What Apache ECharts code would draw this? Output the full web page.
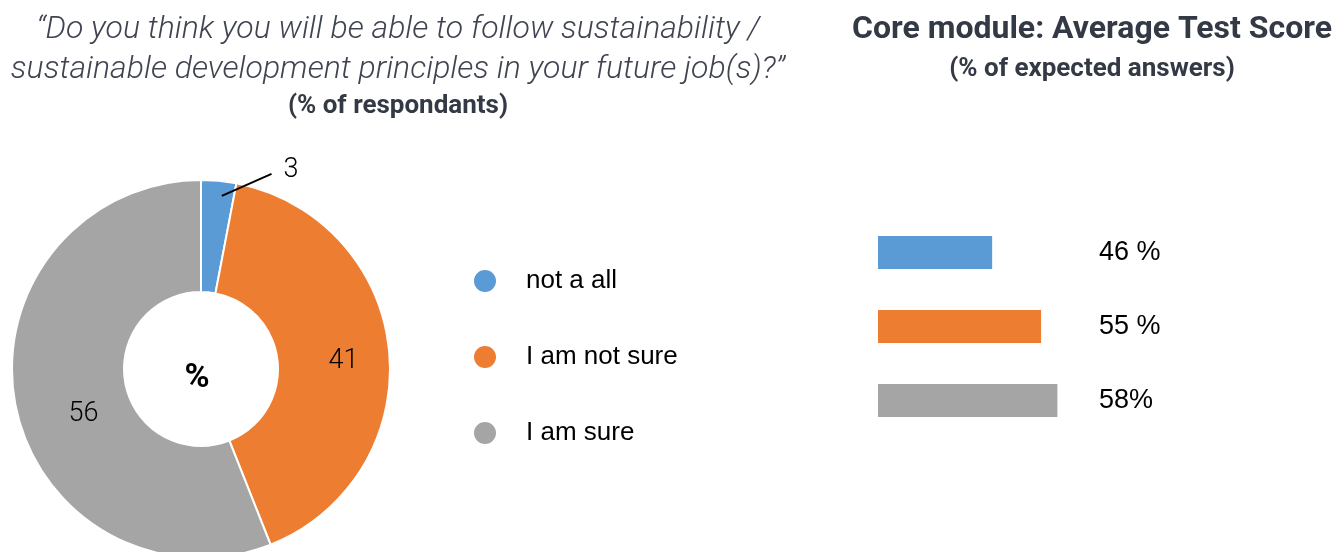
<!DOCTYPE html>
<html>
<head>
<meta charset="utf-8">
<script src="https://cdn.jsdelivr.net/npm/echarts@6/dist/echarts.min.js"></script>
<style>html,body{margin:0;padding:0;background:#fff}#c{width:1344px;height:552px}</style>
</head>
<body>
<div id="c"></div>
<script>
// ---- data ----
const pieNames = ['not a all', 'I am not sure', 'I am sure'];
const pieValues = [3, 41, 56];
const barCategories = ['Test A', 'Test B', 'Test C'];
const barValues = [46, 55, 58];
const barLabels = ['46 %', '55 %', '58%'];
const colors = ['#5b9bd5', '#ed7d31', '#a5a5a5'];

const chart = echarts.init(document.getElementById('c'));
const titleFont = 'Roboto';
const labelFont = { fontFamily: titleFont, fontWeight: 300, fontSize: 27, color: '#000' };
const option = {
  animation: false,
  title: [
    {
      text: '“Do you think you will be able to follow sustainability /\nsustainable development principles in your future job(s)?”',
      subtext: '(% of respondants)',
      left: 393, top: 5, textAlign: 'center', itemGap: 3,
      textStyle: { fontFamily: titleFont, fontStyle: 'italic', fontWeight: 300, fontSize: 32, lineHeight: 40, color: '#3f4450' },
      subtextStyle: { fontFamily: titleFont, fontWeight: 'bold', fontSize: 26, color: '#333a45' }
    },
    {
      text: 'Core module: Average Test Score',
      subtext: '(% of expected answers)',
      left: 1087, top: 9, textAlign: 'center', itemGap: 10,
      textStyle: { fontFamily: titleFont, fontWeight: 'bold', fontSize: 32, color: '#333a45' },
      subtextStyle: { fontFamily: titleFont, fontWeight: 'bold', fontSize: 26, color: '#333a45' }
    }
  ],
  legend: {
    orient: 'vertical', left: 467, top: 263,
    icon: 'circle', itemWidth: 24, itemHeight: 24, itemGap: 50,
    data: pieNames,
    textStyle: { fontFamily: 'Liberation Sans', fontSize: 26, color: '#000', padding: [0, 0, 0, 24] }
  },
  grid: { left: 878, top: 215.5, width: 212, height: 222 },
  xAxis: { type: 'value', min: 25, max: 64, show: false },
  yAxis: {
    type: 'category', data: barCategories, inverse: true, position: 'right',
    axisLine: { show: false }, axisTick: { show: false },
    axisLabel: {
      margin: 9, align: 'left', fontFamily: 'Liberation Sans', fontSize: 27, color: '#000',
      formatter: (v, i) => barLabels[i]
    }
  },
  series: [
    {
      type: 'pie', center: [201, 369], radius: [77, 189],
      startAngle: 90, clockwise: true, z: 2,
      itemStyle: { borderColor: '#fff', borderWidth: 2 },
      label: Object.assign({ show: true, position: 'inside', formatter: '{c}' }, labelFont),
      labelLine: { show: false },
      data: pieNames.map((n, i) => ({
        name: n, value: pieValues[i], itemStyle: { color: colors[i] },
        label: i === 0 ? { show: false } : undefined
      })),
      labelLayout: function (p) {
        if (p.dataIndex === 1) return { dx: 7, dy: 5 };
        if (p.dataIndex === 2) return { dx: 16, dy: 20 };
        return {};
      }
    },
    {
      // overlay: leader-line label for the small slice, drawn above the sectors
      type: 'pie', center: [201, 369], radius: [77, 189],
      startAngle: 90, clockwise: true, z: 5, silent: true, legendHoverLink: false,
      itemStyle: { color: 'rgba(0,0,0,0)', borderWidth: 0 },
      label: Object.assign({ show: false, formatter: '{c}' }, labelFont),
      labelLine: { show: false },
      data: pieNames.map((n, i) => ({
        name: n, value: pieValues[i],
        label: i === 0 ? { show: true, position: 'outside', distance: 6 } : undefined,
        labelLine: i === 0 ? { show: true, length: 8, length2: 30, lineStyle: { color: '#000', width: 2 } } : undefined
      })),
      labelLayout: function (p) {
        if (p.dataIndex === 0) {
          const dx = 29, dy = -3;
          const pts = p.labelLinePoints;
          const r = p.labelRect;
          const start = [pts[0][0] + 3, pts[0][1] + 15];
          const end = [r.x + dx - 12, r.y + dy + r.height / 2 + 4];
          const mid = [(start[0] + end[0]) / 2, (start[1] + end[1]) / 2];
          return { dx: dx, dy: dy, labelLinePoints: [start, mid, end] };
        }
        return {};
      }
    },
    {
      type: 'pie', center: [201, 369], radius: [0, 0], silent: true, z: 5,
      label: { show: true, position: 'center', formatter: '%', fontFamily: titleFont, fontWeight: 'bold', fontSize: 34, color: '#000' },
      labelLayout: { dx: -4, dy: 9 },
      data: [{ name: '', value: 1 }], legendHoverLink: false
    },
    {
      type: 'bar', barWidth: 33, silent: true,
      data: barValues.map((v, i) => ({ value: v, itemStyle: { color: colors[i] } }))
    }
  ]
};
chart.setOption(option);
</script>
</body>
</html>
